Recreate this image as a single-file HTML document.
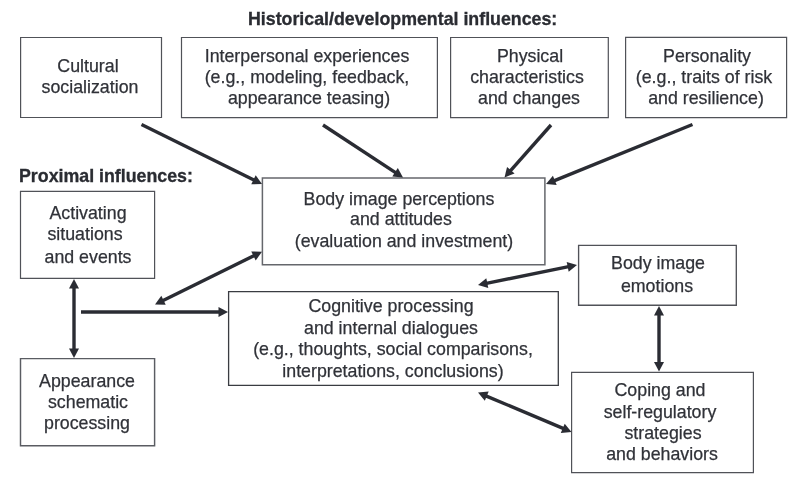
<!DOCTYPE html><html><head><meta charset="utf-8"><style>
html,body{margin:0;padding:0;background:#fff;width:802px;height:482px;overflow:hidden;position:relative;}
body{font-family:"Liberation Sans",sans-serif;color:#303238;}
.b{position:absolute;box-sizing:border-box;border:1.20px solid #505258;}
.t{position:absolute;width:400px;text-align:center;white-space:nowrap;font-size:17.80px;line-height:20px;height:20px;will-change:transform;-webkit-text-stroke:0.25px #303238;}
.h{position:absolute;will-change:transform;white-space:nowrap;font-weight:bold;font-size:17.8px;line-height:20px;-webkit-text-stroke:0.3px #2a2c32;color:#2a2c32;}
svg{position:absolute;left:0;top:0;}
</style></head><body>
<div class="h" style="left:248.4px;top:8.63px;">Historical/developmental influences:</div>
<div class="h" style="left:19px;top:166.03px;">Proximal influences:</div>
<svg width="802" height="482" viewBox="0 0 802 482">
<path d="M20.60 37.50H161.50V117.50H20.60Z" fill="none" stroke="#505258" stroke-width="1.20" stroke-linejoin="miter"/>
<path d="M181.50 37.50H437.40V117.60H181.50Z" fill="none" stroke="#505258" stroke-width="1.20" stroke-linejoin="miter"/>
<path d="M450.60 37.50H608.30V117.60H450.60Z" fill="none" stroke="#505258" stroke-width="1.20" stroke-linejoin="miter"/>
<path d="M625.60 37.40H786.60V117.60H625.60Z" fill="none" stroke="#505258" stroke-width="1.20" stroke-linejoin="miter"/>
<path d="M20.50 191.40H154.60V278.30H20.50Z" fill="none" stroke="#505258" stroke-width="1.20" stroke-linejoin="miter"/>
<path d="M262.40 177.90H544.90V264.70H262.40Z" fill="none" stroke="#65676c" stroke-width="1.50" stroke-linejoin="miter"/>
<path d="M578.60 245.40H736.30V305.20H578.60Z" fill="none" stroke="#505258" stroke-width="1.35" stroke-linejoin="miter"/>
<path d="M228.60 291.60H558.30V385.40H228.60Z" fill="none" stroke="#3a3c42" stroke-width="1.30" stroke-linejoin="miter"/>
<path d="M20.50 358.60H154.60V445.70H20.50Z" fill="none" stroke="#5a5c62" stroke-width="1.45" stroke-linejoin="miter"/>
<path d="M571.60 372.30H753.40V472.60H571.60Z" fill="none" stroke="#505258" stroke-width="1.20" stroke-linejoin="miter"/>
</svg>
<div class="t" style="left:-111.65px;top:56px;">Cultural</div>
<div class="t" style="left:-109.80px;top:77px;">socialization</div>
<div class="t" style="left:107.20px;top:46px;">Interpersonal experiences</div>
<div class="t" style="left:107.15px;top:67px;">(e.g., modeling, feedback,</div>
<div class="t" style="left:109.20px;top:88px;">appearance teasing)</div>
<div class="t" style="left:329.50px;top:46px;">Physical</div>
<div class="t" style="left:326.80px;top:67px;">characteristics</div>
<div class="t" style="left:328.80px;top:88px;">and changes</div>
<div class="t" style="left:506.50px;top:46px;">Personality</div>
<div class="t" style="left:503.80px;top:67px;">(e.g., traits of risk</div>
<div class="t" style="left:506.10px;top:88px;">and resilience)</div>
<div class="t" style="left:-112.50px;top:203px;">Activating</div>
<div class="t" style="left:-115.30px;top:224px;">situations</div>
<div class="t" style="left:-112.10px;top:247px;">and events</div>
<div class="t" style="left:199.00px;top:189px;">Body image perceptions</div>
<div class="t" style="left:200.80px;top:209px;">and attitudes</div>
<div class="t" style="left:203.90px;top:231px;">(evaluation and investment)</div>
<div class="t" style="left:457.60px;top:253px;">Body image</div>
<div class="t" style="left:457.30px;top:276px;">emotions</div>
<div class="t" style="left:191.10px;top:296px;">Cognitive processing</div>
<div class="t" style="left:190.50px;top:318px;">and internal dialogues</div>
<div class="t" style="left:192.50px;top:339px;">(e.g., thoughts, social comparisons,</div>
<div class="t" style="left:192.80px;top:361px;">interpretations, conclusions)</div>
<div class="t" style="left:-112.70px;top:371px;">Appearance</div>
<div class="t" style="left:-112.20px;top:392px;">schematic</div>
<div class="t" style="left:-112.80px;top:413px;">processing</div>
<div class="t" style="left:460.00px;top:380px;">Coping and</div>
<div class="t" style="left:459.80px;top:402px;">self-regulatory</div>
<div class="t" style="left:462.50px;top:423px;">strategies</div>
<div class="t" style="left:461.90px;top:444px;">and behaviors</div>
<svg width="802" height="482" viewBox="0 0 802 482">
<line x1="141.50" y1="124.50" x2="254.38" y2="180.24" stroke="#2a2c33" stroke-width="3.40"/>
<polygon points="262.00,184.00 251.27,184.28 255.70,175.31" fill="#2a2c33"/>
<line x1="323.00" y1="125.00" x2="395.89" y2="172.84" stroke="#2a2c33" stroke-width="3.40"/>
<polygon points="403.00,177.50 392.31,176.47 397.80,168.11" fill="#2a2c33"/>
<line x1="551.00" y1="125.00" x2="510.14" y2="171.04" stroke="#2a2c33" stroke-width="3.40"/>
<polygon points="504.50,177.40 507.07,166.98 514.55,173.61" fill="#2a2c33"/>
<line x1="692.50" y1="124.50" x2="553.88" y2="180.80" stroke="#2a2c33" stroke-width="3.40"/>
<polygon points="546.00,184.00 552.92,175.79 556.68,185.06" fill="#2a2c33"/>
<line x1="162.62" y1="300.74" x2="254.38" y2="255.46" stroke="#2a2c33" stroke-width="3.40"/>
<polygon points="262.00,251.70 255.69,260.39 251.27,251.42" fill="#2a2c33"/>
<polygon points="155.00,304.50 161.31,295.81 165.73,304.78" fill="#2a2c33"/>
<line x1="81.00" y1="312.00" x2="219.50" y2="312.00" stroke="#2a2c33" stroke-width="3.40"/>
<polygon points="228.00,312.00 218.50,317.00 218.50,307.00" fill="#2a2c33"/>
<line x1="74.00" y1="287.50" x2="74.00" y2="349.50" stroke="#2a2c33" stroke-width="3.40"/>
<polygon points="74.00,358.00 69.00,348.50 79.00,348.50" fill="#2a2c33"/>
<polygon points="74.00,279.00 79.00,288.50 69.00,288.50" fill="#2a2c33"/>
<line x1="486.33" y1="283.32" x2="568.67" y2="266.68" stroke="#2a2c33" stroke-width="3.40"/>
<polygon points="577.00,265.00 568.68,271.78 566.70,261.98" fill="#2a2c33"/>
<polygon points="478.00,285.00 486.32,278.22 488.30,288.02" fill="#2a2c33"/>
<line x1="659.00" y1="314.50" x2="659.00" y2="363.00" stroke="#2a2c33" stroke-width="3.40"/>
<polygon points="659.00,371.50 654.00,362.00 664.00,362.00" fill="#2a2c33"/>
<polygon points="659.00,306.00 664.00,315.50 654.00,315.50" fill="#2a2c33"/>
<line x1="485.83" y1="395.81" x2="563.67" y2="428.69" stroke="#2a2c33" stroke-width="3.40"/>
<polygon points="571.50,432.00 560.80,432.91 564.69,423.70" fill="#2a2c33"/>
<polygon points="478.00,392.50 488.70,391.59 484.81,400.80" fill="#2a2c33"/>
</svg>
</body></html>
